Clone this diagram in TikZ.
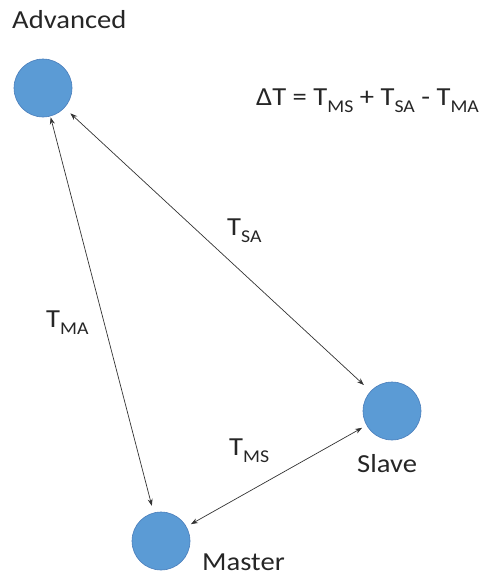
\documentclass[tikz,border=0pt]{standalone}
\usepackage{fontspec}
\setmainfont[FakeStretch=1.1]{Carlito}
\usetikzlibrary{arrows.meta}
\definecolor{circfill}{HTML}{5B9BD5}
\definecolor{circline}{HTML}{4A7EBB}
\definecolor{txt}{HTML}{262626}
\definecolor{lin}{HTML}{333333}
\newcommand\tsub[1]{\raisebox{-7pt}{\fontsize{18}{20}\selectfont #1}}
\begin{document}
\begin{tikzpicture}[x=1pt,y=-1pt,
  dot/.style={circle,minimum size=58pt,inner sep=0pt,fill=circfill,draw=circline,line width=0.6pt},
  lbl/.style={anchor=base west,inner sep=0pt,text=txt,font=\fontsize{26}{30}\selectfont},
  conn/.style={draw=lin,line width=0.7pt,{Stealth[length=7pt,width=5pt]}-{Stealth[length=7pt,width=5pt]}}]
\useasboundingbox (0,0) rectangle (483,579);
\node[dot] (adv) at (43,88) {};
\node[dot] (sla) at (392,411) {};
\node[dot] (mas) at (161,541) {};
\node[lbl] (advt) at (12,28) {Advanced};
\node[lbl] (slat) at (357,472) {Slave};
\node[lbl] (mast) at (202,570) {Master};
\node[lbl] (eq) at (256,105) {ΔT = T\tsub{MS} + T\tsub{SA} - T\tsub{MA}};
\node[lbl] (tsa) at (227,235) {T\tsub{SA}};
\node[lbl] (tms) at (229,455) {T\tsub{MS}};
\node[lbl] (tma) at (46,327) {T\tsub{MA}};
\draw[conn,shorten <=1pt,shorten >=7pt] (adv) -- (mas);
\draw[conn,shorten <=8pt,shorten >=9pt] (adv) -- (sla);
\draw[conn,shorten <=5pt,shorten >=5pt] (mas) -- (sla);
\end{tikzpicture}
\end{document}
